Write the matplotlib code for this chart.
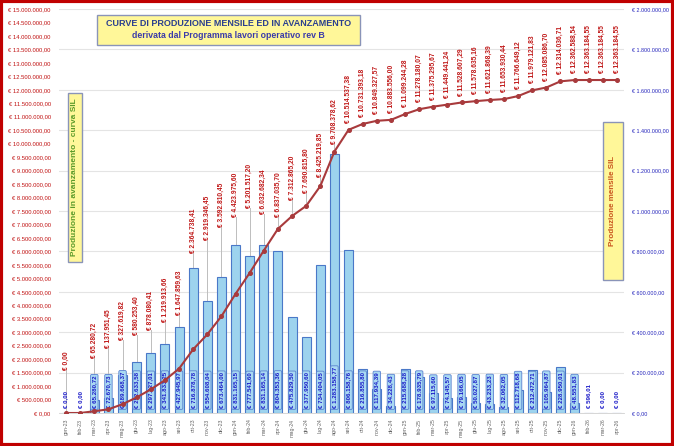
import matplotlib
matplotlib.use("Agg")
import matplotlib.pyplot as plt
from matplotlib.patches import Rectangle
import numpy as np

plt.rcParams['font.family'] = ['Liberation Sans', 'DejaVu Sans']

# ---------------- data ----------------
months = ["gen-23", "feb-23", "mar-23", "apr-23", "mag-23", "giu-23", "lug-23", "ago-23",
          "set-23", "ott-23", "nov-23", "dic-23", "gen-24", "feb-24", "mar-24", "apr-24",
          "mag-24", "giu-24", "lug-24", "ago-24", "set-24", "ott-24", "nov-24", "dic-24",
          "gen-25", "feb-25", "mar-25", "apr-25", "mag-25", "giu-25", "lug-25", "ago-25",
          "set-25", "ott-25", "nov-25", "dic-25", "gen-26", "feb-26", "mar-26", "apr-26"]

monthly = [0.00, 0.00, 65280.72, 72670.73, 189668.37, 252633.58, 297827.01, 341833.25,
           427945.97, 716878.78, 554608.04, 673464.00, 831165.15, 777541.60, 831165.14, 804353.36,
           475829.50, 377950.60, 734404.05, 1283158.77, 806158.76, 216855.80, 117934.39, 34228.43,
           215688.28, 178935.79, 97115.60, 74145.57, 79166.05, 50027.87, 43233.23, 32062.05,
           112718.68, 212472.71, 105964.87, 228950.01, 48551.83, 596.01, 0.00, 0.00]

cumulative = [0.00, 0.00, 65280.72, 137951.45, 327619.82, 580253.40, 878080.41, 1219913.66,
              1647859.63, 2364738.41, 2919346.45, 3592810.45, 4423975.60, 5201517.20, 6032682.34, 6837035.70,
              7312865.20, 7690815.80, 8425219.85, 9708378.62, 10514537.38, 10731393.18, 10849327.57, 10883556.00,
              11099244.28, 11278180.07, 11375295.67, 11449441.24, 11528607.29, 11578635.16, 11621868.39, 11653930.44,
              11766649.12, 11979121.83, 12085086.70, 12314036.71, 12362588.54, 12363184.55, 12363184.55, 12363184.55]

# layout: where the moved cumulative labels start (left-axis units); None = just above the point
cum_label_pos = [1.60e6, None, 2.04e6, 2.41e6, 2.71e6, 2.90e6, 3.08e6, 3.38e6,
                 3.64e6, 5.94e6, 6.42e6, 6.90e6, 7.28e6, 7.60e6, 7.40e6, 7.28e6,
                 7.90e6, 8.17e6, 8.76e6, 10.0e6]
cum_label_skip = [1]

title1 = "CURVE DI PRODUZIONE MENSILE ED IN AVANZAMENTO"
title2 = "derivata dal Programma lavori operativo rev B"
left_box_text = "Produzione in avanzamento - curva SIL"
right_box_text = "Produzione mensile SIL"

LEFT_MAX = 15_000_000
RIGHT_MAX = 2_000_000


def eur(v):
    s = f"{v:,.2f}".replace(",", "X").replace(".", ",").replace("X", ".")
    return "€ " + s


W, H = 674, 446
fig = plt.figure(figsize=(W / 100, H / 100), dpi=100)
fig.patch.set_facecolor("white")

x0, x1 = 59, 624
ytop, ybot = 9, 413
ax_bar = fig.add_axes([x0 / W, (H - ybot) / H, (x1 - x0) / W, (ybot - ytop) / H])
ax_line = ax_bar.twinx()

x = np.arange(len(months))
ratio = LEFT_MAX / RIGHT_MAX

# bars (right axis)
ax_bar.bar(x, monthly, width=0.64, color="#9DD3EE", edgecolor="#4A78C8", linewidth=0.8, zorder=3)
ax_bar.set_ylim(0, RIGHT_MAX)
ax_bar.set_xlim(-0.5, len(months) - 0.5)
ax_bar.set_yticks(np.arange(0, RIGHT_MAX + 1, 200_000))
ax_bar.set_yticklabels([eur(v) for v in np.arange(0, RIGHT_MAX + 1, 200_000)])
ax_bar.yaxis.tick_right()
ax_bar.tick_params(axis="y", length=0, labelsize=3.9, labelcolor="#2222BB", pad=6)
ax_bar.set_xticks(x)
ax_bar.set_xticklabels(months, rotation=90, fontsize=3.8, color="#666666")
ax_bar.tick_params(axis="x", length=0, pad=4)
ax_bar.grid(axis="y", color="#E4E4E4", linewidth=0.8, zorder=0)
ax_bar.set_axisbelow(True)
for s in ["top", "left", "right"]:
    ax_bar.spines[s].set_visible(False)
ax_bar.spines["bottom"].set_color("#D0D0D0")
ax_bar.spines["bottom"].set_linewidth(0.6)

# monthly labels at bar base
for i, v in enumerate(monthly):
    kw = dict(rotation=90, ha="center", va="bottom", fontsize=4.4, color="#1A1AC8",
              fontweight="bold", zorder=5)
    if v > 1000:
        kw["bbox"] = dict(boxstyle="round,pad=0.2", facecolor="#A9D9F2", edgecolor="#5A82D0", linewidth=0.6)
    ax_bar.text(i, 0.012 * RIGHT_MAX, eur(v), **kw)

# leader lines (behind bars, drawn on the bar axes)
for i, pos in enumerate(cum_label_pos):
    if pos is None or i in cum_label_skip:
        continue
    ax_bar.plot([i, i], [pos / ratio, cumulative[i] / ratio], color="#BDBDBD", lw=0.7, zorder=1)

# cumulative line (left axis)
ax_line.plot(x, cumulative, color="#A83A3C", lw=1.5, marker="o", markersize=2.6,
             markerfacecolor="#A83A3C", markeredgecolor="#A83A3C", zorder=4)
ax_line.set_ylim(0, LEFT_MAX)
ax_line.set_yticks(np.arange(0, LEFT_MAX + 1, 500_000))
ax_line.set_yticklabels([eur(v) for v in np.arange(0, LEFT_MAX + 1, 500_000)])
ax_line.yaxis.tick_left()
ax_line.tick_params(axis="y", length=0, labelsize=4.2, labelcolor="#C01010", pad=6)
for s in ["top", "left", "right", "bottom"]:
    ax_line.spines[s].set_visible(False)

for i, v in enumerate(cumulative):
    if i in cum_label_skip:
        continue
    pos = cum_label_pos[i] if i < len(cum_label_pos) else None
    kw = dict(rotation=90, ha="center", va="bottom", fontsize=4.8, color="#C01818",
              fontweight="bold", zorder=6)
    if pos is None:
        ax_line.annotate(eur(v), (i, v), xytext=(0, 5), textcoords="offset points", **kw)
    else:
        ax_line.text(i, pos, eur(v), **kw)


# boxes
def fig_box(px0, py0, px1, py1, face, edge):
    r = Rectangle((px0 / W, 1 - py1 / H), (px1 - px0) / W, (py1 - py0) / H,
                  transform=fig.transFigure, facecolor=face, edgecolor=edge, linewidth=1.0, zorder=10)
    fig.add_artist(r)


fig_box(97, 15, 360, 45, "#FFF799", "#8A94B8")
fig.text((97 + 360) / 2 / W, 1 - 23 / H, title1, ha="center", va="center", fontsize=6.5,
         fontweight="bold", color="#2B3F8F", zorder=11)
fig.text((97 + 360) / 2 / W, 1 - 36 / H, title2, ha="center", va="center", fontsize=6.3,
         fontweight="bold", color="#3A3AAA", zorder=11)

fig_box(68, 93, 82, 262, "#FFF799", "#8A94B8")
fig.text(75 / W, 1 - 177.5 / H, left_box_text, rotation=90, ha="center", va="center",
         fontsize=6.0, fontweight="bold", color="#5A9A2A", zorder=11)

fig_box(603, 122, 623, 280, "#FFF799", "#8A94B8")
fig.text(613 / W, 1 - 201 / H, right_box_text, rotation=90, ha="center", va="center",
         fontsize=5.8, fontweight="bold", color="#C8551E", zorder=11)

# red frame
fig.add_artist(Rectangle((0.002, 0.003), 0.996, 0.994, transform=fig.transFigure,
                         fill=False, edgecolor="#C00000", linewidth=3, zorder=20))

fig.savefig("out.png", dpi=100)
